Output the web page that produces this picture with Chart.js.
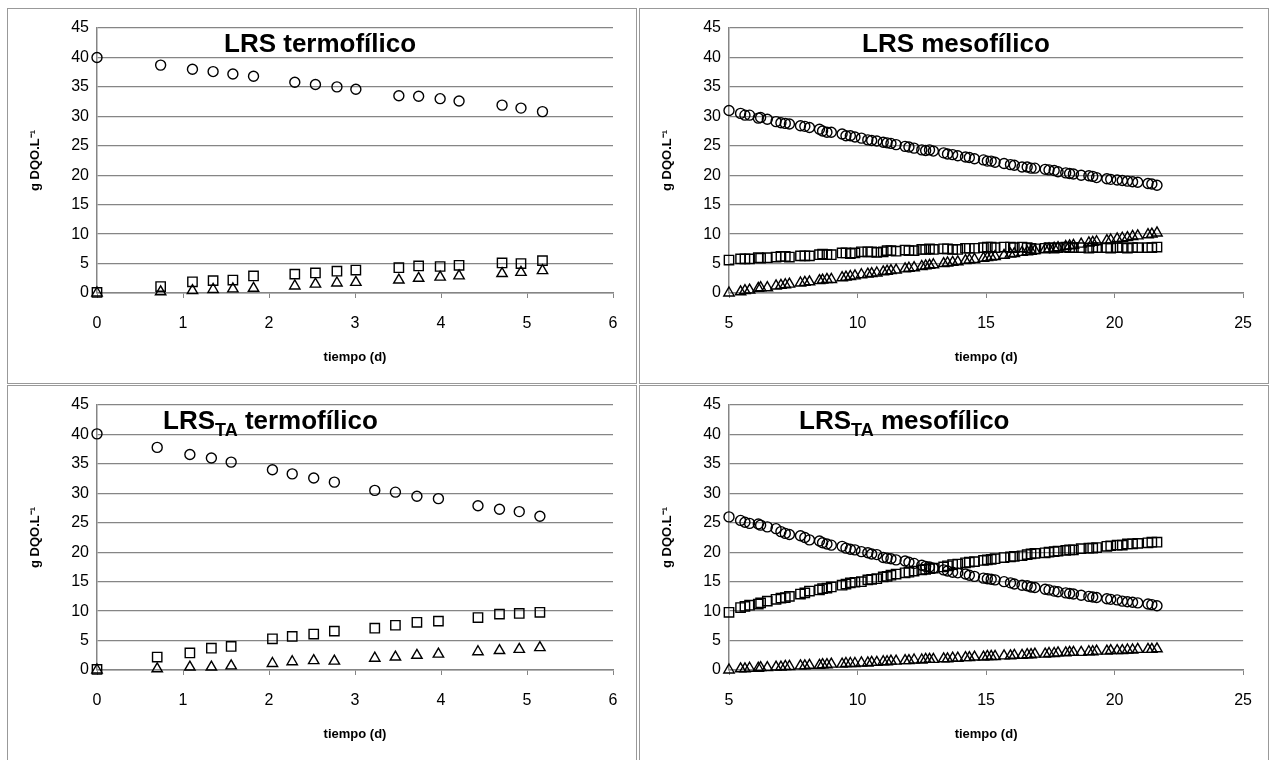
<!DOCTYPE html>
<html>
<head>
<meta charset="utf-8">
<script src="https://cdn.jsdelivr.net/npm/chart.js@4/dist/chart.umd.min.js"></script>
<style>
  body { margin: 0; background: #fff; width: 1276px; height: 760px; position: relative; overflow: hidden; }
  .panel { position: absolute; border: 1px solid #999; background: #fff; }
  .panel canvas { display: block; }
</style>
</head>
<body>
<div class="panel" style="left:7px; top:8px;"><canvas id="c1" width="628" height="374"></canvas></div>
<div class="panel" style="left:639px; top:8px;"><canvas id="c2" width="628" height="374"></canvas></div>
<div class="panel" style="left:7px; top:385px;"><canvas id="c3" width="628" height="374"></canvas></div>
<div class="panel" style="left:639px; top:385px;"><canvas id="c4" width="628" height="374"></canvas></div>
<script>
// --- LRS termofilico (d, g DQO/L) ---
const tTermo = [0, 0.74, 1.11, 1.35, 1.58, 1.82, 2.30, 2.54, 2.79, 3.01, 3.51, 3.74, 3.99, 4.21, 4.71, 4.93, 5.18];
const circTermo = [40.0, 38.7, 38.0, 37.6, 37.2, 36.8, 35.8, 35.4, 35.0, 34.6, 33.5, 33.4, 33.0, 32.6, 31.9, 31.4, 30.8];
const sqTermo = [0.1, 1.1, 1.9, 2.1, 2.2, 2.9, 3.2, 3.4, 3.7, 3.9, 4.3, 4.6, 4.5, 4.7, 5.1, 5.0, 5.5];
const triTermo = [0.0, 0.2, 0.4, 0.6, 0.7, 0.8, 1.2, 1.5, 1.7, 1.8, 2.2, 2.5, 2.7, 2.9, 3.3, 3.5, 3.8];

// --- LRS_TA termofilico ---
const tTermoTA = [0, 0.70, 1.08, 1.33, 1.56, 2.04, 2.27, 2.52, 2.76, 3.23, 3.47, 3.72, 3.97, 4.43, 4.68, 4.91, 5.15];
const circTermoTA = [40.1, 37.8, 36.6, 36.0, 35.3, 34.0, 33.3, 32.6, 31.9, 30.5, 30.2, 29.5, 29.1, 27.9, 27.3, 26.9, 26.1];
const sqTermoTA = [0.1, 2.2, 2.9, 3.7, 4.0, 5.3, 5.7, 6.1, 6.6, 7.1, 7.6, 8.1, 8.3, 8.9, 9.5, 9.6, 9.8];
const triTermoTA = [0.0, 0.2, 0.5, 0.5, 0.7, 1.1, 1.4, 1.6, 1.5, 2.0, 2.2, 2.5, 2.7, 3.1, 3.3, 3.5, 3.8];

// --- mesofilico sampling times (d) ---
const tMeso = [5.0, 5.45, 5.62, 5.8, 6.14, 6.23, 6.49, 6.83, 7.02, 7.19, 7.35, 7.78, 7.95, 8.13, 8.52, 8.64, 8.81, 8.98,
  9.4, 9.55, 9.72, 9.9, 10.15, 10.4, 10.55, 10.75, 11.0, 11.15, 11.3, 11.5, 11.85, 12.0, 12.2, 12.5, 12.65, 12.8, 12.95,
  13.35, 13.5, 13.7, 13.9, 14.2, 14.35, 14.55, 14.9, 15.05, 15.2, 15.35, 15.7, 15.95, 16.1, 16.4, 16.6, 16.75, 16.9,
  17.3, 17.45, 17.65, 17.8, 18.1, 18.25, 18.4, 18.7, 19.0, 19.15, 19.3, 19.7, 19.85, 20.1, 20.3, 20.5, 20.7, 20.9,
  21.3, 21.45, 21.65];

// --- LRS mesofilico ---
const circMeso = [31.0, 30.5, 30.2, 30.2, 29.7, 29.8, 29.5, 29.1, 28.9, 28.8, 28.7, 28.4, 28.3, 28.1, 27.8, 27.5, 27.3, 27.3,
  27.0, 26.7, 26.7, 26.5, 26.3, 26.0, 25.9, 25.8, 25.6, 25.5, 25.4, 25.2, 24.9, 24.8, 24.6, 24.3, 24.2, 24.3, 24.1,
  23.8, 23.6, 23.5, 23.3, 23.1, 23.0, 22.8, 22.6, 22.4, 22.4, 22.2, 22.0, 21.8, 21.7, 21.4, 21.4, 21.2, 21.2,
  21.0, 20.9, 20.8, 20.6, 20.4, 20.3, 20.2, 20.0, 19.9, 19.8, 19.6, 19.4, 19.3, 19.2, 19.1, 19.0, 18.9, 18.8,
  18.6, 18.5, 18.3];
const sqMeso = [5.6, 5.8, 5.8, 5.8, 6.0, 5.9, 6.0, 6.1, 6.2, 6.2, 6.1, 6.3, 6.3, 6.3, 6.5, 6.6, 6.5, 6.5,
  6.8, 6.8, 6.7, 6.8, 7.0, 7.0, 7.0, 6.9, 7.0, 7.2, 7.2, 7.1, 7.3, 7.2, 7.2, 7.4, 7.4, 7.5, 7.4,
  7.5, 7.5, 7.4, 7.4, 7.6, 7.6, 7.6, 7.7, 7.8, 7.8, 7.7, 7.8, 7.8, 7.7, 7.8, 7.7, 7.6, 7.5,
  7.6, 7.7, 7.6, 7.7, 7.8, 7.7, 7.7, 7.7, 7.6, 7.7, 7.7, 7.7, 7.6, 7.7, 7.7, 7.6, 7.7, 7.7,
  7.7, 7.7, 7.8];
const triMeso = [0.0, 0.2, 0.4, 0.5, 0.8, 0.9, 0.9, 1.2, 1.3, 1.4, 1.5, 1.7, 1.8, 1.9, 2.1, 2.2, 2.3, 2.3,
  2.6, 2.7, 2.8, 2.9, 3.1, 3.2, 3.3, 3.4, 3.6, 3.7, 3.8, 3.9, 4.1, 4.2, 4.3, 4.5, 4.6, 4.7, 4.8,
  5.0, 5.1, 5.2, 5.3, 5.5, 5.6, 5.7, 5.9, 6.0, 6.1, 6.2, 6.4, 6.6, 6.7, 6.9, 7.0, 7.1, 7.2,
  7.4, 7.5, 7.6, 7.7, 7.9, 8.0, 8.1, 8.3, 8.5, 8.6, 8.7, 8.9, 9.0, 9.2, 9.3, 9.4, 9.6, 9.7,
  9.9, 10.0, 10.2];

// --- LRS_TA mesofilico ---
const circMesoTA = [26.0, 25.4, 25.1, 24.9, 24.8, 24.6, 24.3, 24.0, 23.5, 23.2, 23.0, 22.8, 22.5, 22.1, 21.9, 21.6, 21.4, 21.2,
  21.0, 20.7, 20.5, 20.4, 20.1, 19.9, 19.7, 19.6, 19.1, 19.0, 18.9, 18.7, 18.5, 18.3, 18.1, 17.8, 17.6, 17.5, 17.3,
  17.0, 16.8, 16.6, 16.5, 16.3, 16.1, 15.9, 15.6, 15.5, 15.4, 15.3, 15.0, 14.8, 14.6, 14.4, 14.3, 14.1, 14.0,
  13.7, 13.6, 13.4, 13.3, 13.1, 13.0, 12.9, 12.7, 12.5, 12.4, 12.3, 12.1, 12.0, 11.9, 11.7, 11.6, 11.5, 11.4,
  11.2, 11.1, 10.9];
const sqMesoTA = [9.8, 10.6, 10.8, 11.0, 11.2, 11.4, 11.7, 12.0, 12.2, 12.3, 12.5, 12.9, 13.1, 13.4, 13.6, 13.8, 13.9, 14.1,
  14.4, 14.6, 14.8, 14.9, 15.0, 15.3, 15.4, 15.5, 15.8, 15.9, 16.1, 16.3, 16.5, 16.6, 16.8, 17.0, 17.1, 17.2, 17.3,
  17.5, 17.7, 17.9, 18.0, 18.2, 18.3, 18.4, 18.6, 18.7, 18.8, 18.9, 19.1, 19.2, 19.3, 19.4, 19.6, 19.7, 19.8,
  19.9, 20.0, 20.1, 20.2, 20.3, 20.4, 20.4, 20.6, 20.7, 20.7, 20.8, 21.0, 21.1, 21.2, 21.2, 21.4, 21.4, 21.5,
  21.6, 21.7, 21.7];
const triMesoTA = [0.0, 0.2, 0.2, 0.3, 0.3, 0.4, 0.4, 0.5, 0.5, 0.6, 0.6, 0.7, 0.7, 0.8, 0.8, 0.9, 0.9, 1.0,
  1.0, 1.1, 1.1, 1.1, 1.2, 1.2, 1.3, 1.3, 1.4, 1.4, 1.5, 1.5, 1.6, 1.6, 1.7, 1.7, 1.8, 1.8, 1.8,
  1.9, 1.9, 2.0, 2.0, 2.1, 2.1, 2.2, 2.2, 2.3, 2.3, 2.3, 2.4, 2.4, 2.5, 2.5, 2.6, 2.6, 2.7,
  2.7, 2.8, 2.8, 2.9, 2.9, 3.0, 3.0, 3.0, 3.1, 3.1, 3.2, 3.2, 3.3, 3.3, 3.3, 3.4, 3.4, 3.5,
  3.5, 3.5, 3.6];

const yTicks = { min: 0, max: 45, step: 5 };
const FONT = '"Liberation Sans", Arial, sans-serif';
const GRAY = '#858585';

const pts = (xs, ys) => xs.map((x, i) => ({ x: x, y: ys[i] }));

// title drawn inside the plot area, with optional subscript
const panelTitle = {
  id: 'panelTitle',
  afterDraw(chart, args, o) {
    const { ctx, chartArea } = chart;
    ctx.save();
    ctx.fillStyle = '#000';
    ctx.textBaseline = 'alphabetic';
    let x = chartArea.left + o.dx;
    const y = chartArea.top + o.dy;
    o.parts.forEach(p => {
      ctx.font = p.sub ? 'bold 18px ' + FONT : 'bold 26px ' + FONT;
      ctx.fillText(p.text, x, p.sub ? y + 7 : y);
      x += ctx.measureText(p.text).width;
    });
    ctx.restore();
  }
};

function series(xs, ys, style, r) {
  return {
    data: pts(xs, ys),
    pointStyle: style,
    pointRadius: r,
    pointBorderColor: '#000',
    pointBackgroundColor: 'rgba(0,0,0,0)',
    pointBorderWidth: 1.4,
    showLine: false,
    clip: false
  };
}

function panel(id, xs, circ, sq, tri, xMin, xMax, xStep, parts, dx) {
  return new Chart(document.getElementById(id), {
    type: 'scatter',
    data: {
      datasets: [
        series(xs, circ, 'circle', 5),
        series(xs, sq, 'rect', 6.6),
        series(xs, tri, 'triangle', 6)
      ]
    },
    options: {
      responsive: false,
      animation: false,
      layout: { padding: { top: 19, right: 23, left: 0, bottom: 0 } },
      plugins: {
        legend: { display: false },
        tooltip: { enabled: false },
        panelTitle: { parts: parts, dx: dx, dy: 24 }
      },
      scales: {
        x: {
          type: 'linear', min: xMin, max: xMax,
          ticks: { stepSize: xStep, color: '#000', font: { family: FONT, size: 16 }, padding: 16 },
          grid: { drawOnChartArea: false, tickLength: 5, color: GRAY },
          border: { color: GRAY, width: 1.5 },
          title: { display: true, text: 'tiempo (d)', color: '#000', font: { family: FONT, size: 13, weight: 'bold' }, padding: { bottom: 18 } },
          afterFit: s => { s.height = 90; }
        },
        y: {
          min: yTicks.min, max: yTicks.max,
          ticks: { stepSize: yTicks.step, color: '#000', font: { family: FONT, size: 16 }, padding: 8 },
          grid: { color: GRAY, drawTicks: false, lineWidth: 1.3 },
          border: { color: GRAY, width: 1.5 },
          title: { display: true, text: 'g DQO.L\u207B\u00B9', color: '#000', font: { family: FONT, size: 13, weight: 'bold' }, padding: { top: 20 } },
          afterFit: s => { s.width = 89; }
        }
      }
    },
    plugins: [panelTitle]
  });
}

panel('c1', tTermo, circTermo, sqTermo, triTermo, 0, 6, 1,
  [{ text: 'LRS termofílico' }], 127);
panel('c2', tMeso, circMeso, sqMeso, triMeso, 5, 25, 5,
  [{ text: 'LRS mesofílico' }], 133);
panel('c3', tTermoTA, circTermoTA, sqTermoTA, triTermoTA, 0, 6, 1,
  [{ text: 'LRS' }, { text: 'TA', sub: true }, { text: ' termofílico' }], 66);
panel('c4', tMeso, circMesoTA, sqMesoTA, triMesoTA, 5, 25, 5,
  [{ text: 'LRS' }, { text: 'TA', sub: true }, { text: ' mesofílico' }], 70);
</script>
</body>
</html>
